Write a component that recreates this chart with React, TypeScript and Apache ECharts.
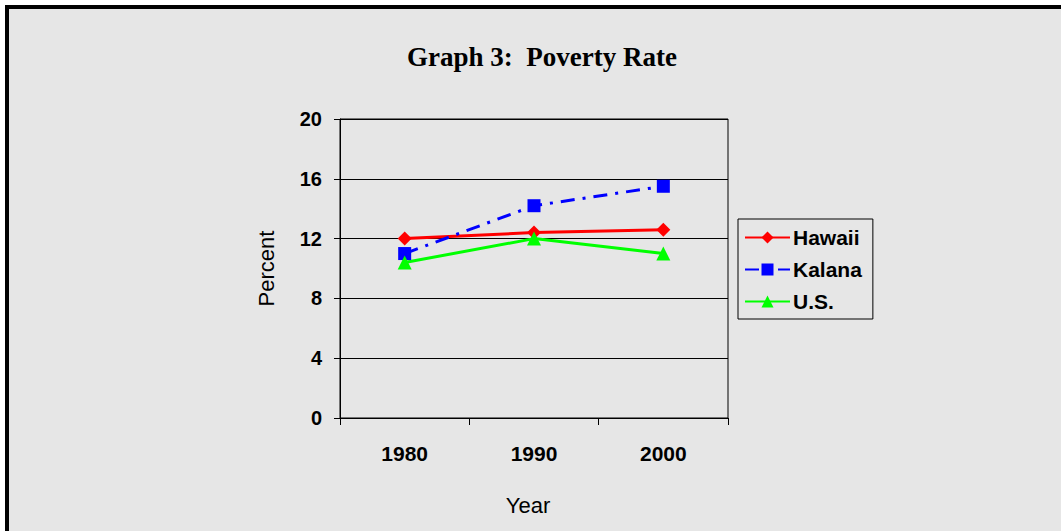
import React, { useEffect, useRef } from "react";
import * as echarts from "echarts";

const years = ["1980", "1990", "2000"];
const hawaii = [12.0, 12.4, 12.6];
const kalana = [11.0, 14.2, 15.5];
const us = [10.4, 12.0, 11.0];
const yTicks = { min: 0, max: 20, interval: 4 };

export default function App() {
  const ref = useRef<HTMLDivElement>(null);
  useEffect(() => {
    if (!ref.current) return;
    const chart = echarts.init(ref.current, null, { renderer: "svg" });
    const labelFont = { fontFamily: "Liberation Sans, Arial, sans-serif", color: "#000" };
    chart.setOption({
      animation: false,
      backgroundColor: "#ffffff",
      graphic: [
        {
          type: "rect",
          z: -10,
          shape: { x: 7, y: 7, width: 1200, height: 700 },
          style: { fill: "#e6e6e6", stroke: "#000", lineWidth: 4 },
        },
      ],
      title: {
        text: "Graph 3:  Poverty Rate",
        left: 402,
        top: 38,
        textStyle: {
          fontFamily: "Liberation Serif, Times New Roman, serif",
          fontWeight: "bold",
          fontSize: 27,
          color: "#000",
        },
      },
      grid: {
        left: 340,
        top: 119,
        width: 388,
        height: 299,
        show: true,
        borderColor: "#000",
        borderWidth: 1,
        backgroundColor: "transparent",
      },
      legend: {
        left: 738,
        top: 219,
        orient: "vertical",
        itemWidth: 45,
        itemHeight: 15,
        itemGap: 11,
        padding: [8, 11, 7, 6],
        borderColor: "#000",
        borderWidth: 1,
        backgroundColor: "#e6e6e6",
        textStyle: { ...labelFont, fontWeight: "bold", fontSize: 21, padding: [0, 0, 0, -2] },
        data: ["Hawaii", "Kalana", "U.S."],
      },
      xAxis: {
        type: "category",
        data: years,
        boundaryGap: true,
        name: "Year",
        nameLocation: "middle",
        nameGap: 76,
        nameTextStyle: { ...labelFont, fontSize: 22, padding: [0, 12, 0, 0] },
        axisLine: { lineStyle: { color: "#000", width: 1 } },
        axisTick: { show: true, length: 7, lineStyle: { color: "#000" } },
        axisLabel: { ...labelFont, fontWeight: "bold", fontSize: 21, margin: 25 },
        splitLine: { show: false },
      },
      yAxis: {
        type: "value",
        min: yTicks.min,
        max: yTicks.max,
        interval: yTicks.interval,
        name: "Percent",
        nameLocation: "middle",
        nameGap: 63,
        nameRotate: 90,
        nameTextStyle: { ...labelFont, fontSize: 22 },
        axisLine: { show: true, lineStyle: { color: "#000", width: 1 } },
        axisTick: { show: true, length: 6, lineStyle: { color: "#000" } },
        axisLabel: { ...labelFont, fontWeight: "bold", fontSize: 20, margin: 18 },
        splitLine: { show: true, lineStyle: { color: "#000", width: 1 } },
      },
      series: [
        {
          name: "Hawaii",
          type: "line",
          data: hawaii,
          symbol: "diamond",
          symbolSize: 14,
          itemStyle: { color: "#ff0000" },
          lineStyle: { color: "#ff0000", width: 3 },
        },
        {
          name: "Kalana",
          type: "line",
          data: kalana,
          symbol: "rect",
          symbolSize: 13,
          itemStyle: { color: "#0000ff" },
          lineStyle: { color: "#0000ff", width: 3, type: [14, 8, 3, 8] },
        },
        {
          name: "U.S.",
          type: "line",
          data: us,
          symbol: "triangle",
          symbolSize: 14,
          itemStyle: { color: "#00ff00" },
          lineStyle: { color: "#00ff00", width: 3 },
        },
      ],
    });
    return () => chart.dispose();
  }, []);
  return (
    <div
      ref={ref}
      style={{ position: "fixed", left: 0, top: 0, width: 1061, height: 531 }}
    />
  );
}
